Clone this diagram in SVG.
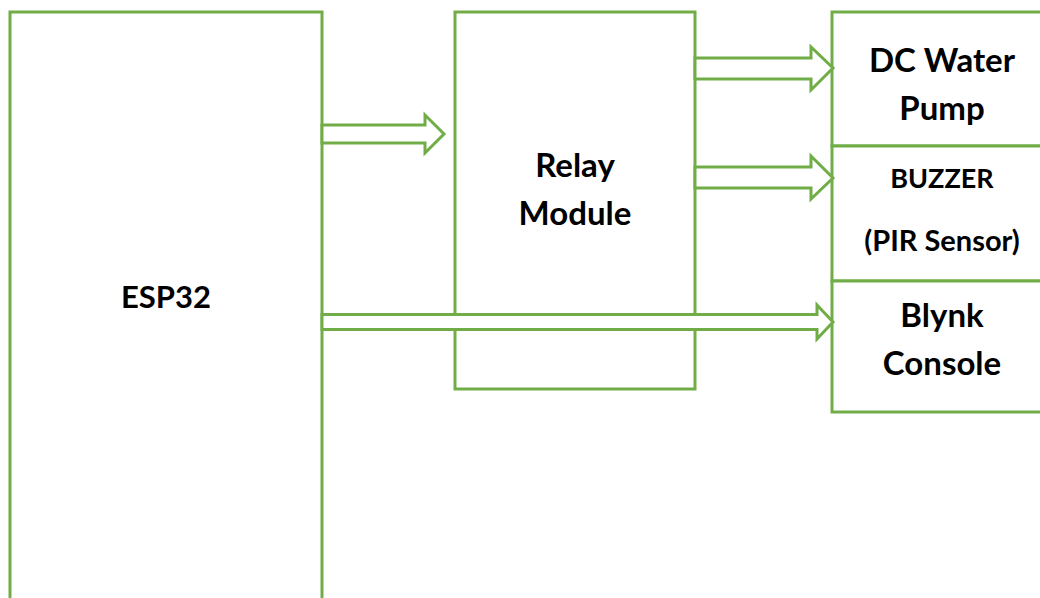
<svg xmlns="http://www.w3.org/2000/svg" width="1040" height="598" viewBox="0 0 1040 598">
<style>
.box{fill:#fff;stroke:#70AD47;stroke-width:3}
.arr{fill:#fff;stroke:#70AD47;stroke-width:3;stroke-linejoin:miter}
.lbl{font-family:Lato,"Liberation Sans",sans-serif;font-weight:bold;font-size:33px;fill:#000;text-anchor:middle}
.sm{font-size:27px}
</style>
<rect width="1040" height="598" fill="#fff"/>
<g id="esp32">
<rect class="box" x="10" y="12" width="312" height="600"/>
<text class="lbl" x="166" y="308" style="font-size:31px">ESP32</text>
</g>
<g id="relay">
<rect class="box" x="455" y="12" width="240" height="377"/>
<text class="lbl" x="575" y="177">Relay</text>
<text class="lbl" x="575" y="225">Module</text>
</g>
<g id="pump">
<rect class="box" x="832" y="12" width="212" height="134"/>
<text class="lbl" x="942" y="72">DC Water</text>
<text class="lbl" x="942" y="120">Pump</text>
</g>
<g id="buzzer">
<rect class="box" x="832" y="146" width="212" height="135"/>
<text class="lbl sm" x="942" y="188">BUZZER</text>
<text class="lbl sm" x="942" y="251" style="font-size:29px">(PIR Sensor)</text>
</g>
<g id="blynk">
<rect class="box" x="832" y="281" width="212" height="131"/>
<text class="lbl" x="942" y="327">Blynk</text>
<text class="lbl" x="942" y="375">Console</text>
</g>
<g id="connectors">
<polygon class="arr" points="322,125 425,125 425,115 444,134 425,153 425,143 322,143"/>
<polygon class="arr" points="695,58 811,58 811,47 833,68 811,90 811,79 695,79"/>
<polygon class="arr" points="695,167 811,167 811,156 833,178 811,199 811,188 695,188"/>
<polygon class="arr" points="322,314.5 817,314.5 817,305 833,322 817,339 817,329.5 322,329.5"/>
</g>
</svg>
